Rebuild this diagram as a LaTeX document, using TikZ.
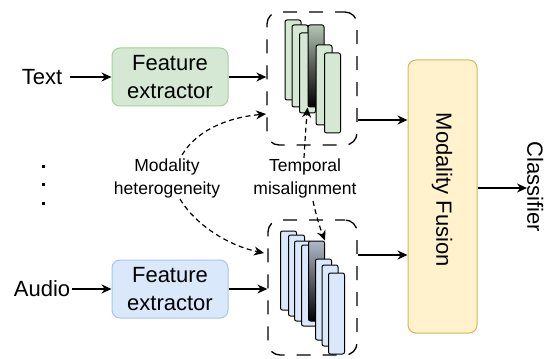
\documentclass[tikz,border=0pt]{standalone}
\usepackage{fontspec}
\setmainfont{Liberation Sans}
\usetikzlibrary{arrows.meta,calc}
\definecolor{gfill}{HTML}{D5E8D4}
\definecolor{gline}{HTML}{A3D196}
\definecolor{bfill}{HTML}{DAE8FC}
\definecolor{bline}{HTML}{A9C4EB}
\definecolor{yfill}{HTML}{FFF2CC}
\definecolor{yline}{HTML}{D6B656}
\begin{document}
\begin{tikzpicture}[x=1pt,y=-1pt,
  lbl/.style={font=\fontsize{22}{27}\selectfont, inner sep=0pt, align=center},
  small/.style={font=\fontsize{17.5}{23}\selectfont, inner sep=0pt, align=center},
  febox/.style={draw, line width=1pt, rounded corners=8pt, minimum width=116pt, minimum height=58pt, align=center, font=\fontsize{22}{28}\selectfont, inner sep=0pt},
  grp/.style={draw, line width=1.3pt, dash pattern=on 14pt off 12pt, dash phase=4pt, rounded corners=12pt, inner sep=0pt},
  bar/.style={draw, line width=1pt, rounded corners=2pt, minimum width=16pt, inner sep=0pt},
  gbar/.style={bar, fill=gfill},
  bbar/.style={bar, fill=bfill},
  arr/.style={line width=1.2pt, -{Stealth[length=10pt,width=9pt]}},
  darr/.style={line width=1.2pt, dash pattern=on 5pt off 3.5pt, -{Stealth[length=10pt,width=9pt]}},
  dot/.style={fill=black, minimum size=3pt, inner sep=0pt},
]
\useasboundingbox (0,0) rectangle (545,358);

% inputs
\node[lbl] (text) at (42,77) {Text};
\node[lbl] (audio) at (42,289) {Audio};
\node[dot] (d1) at (43,166) {};
\node[dot] (d2) at (43,184) {};
\node[dot] (d3) at (43,203) {};

% feature extractors
\node[febox, fill=gfill, draw=gline] (fet) at (170,77) {Feature\\extractor};
\node[febox, fill=bfill, draw=bline] (fea) at (170,289) {Feature\\extractor};

% groups
\node[grp, minimum width=90pt, minimum height=133pt] (gt) at (312,78.5) {};
\node[grp, minimum width=89pt, minimum height=135pt] (ga) at (312.5,287.5) {};

% green bars
\node[gbar, minimum height=80pt] (g1) at (293,60) {};
\node[gbar, minimum height=82pt] (g2) at (300,66) {};
\node[gbar, minimum height=80pt] (g3) at (307.5,73) {};
\node[bar, minimum height=82pt, top color=gfill!85!black, bottom color=black, middle color=gfill!40!black] (g4) at (316,66) {};
\node[gbar, minimum height=80pt] (g5) at (324,85) {};
\node[gbar, minimum height=80pt] (g6) at (332.5,93) {};

% blue bars
\node[bbar, minimum height=79pt] (a1) at (288.5,270.5) {};
\node[bbar, minimum height=81pt] (a2) at (296.5,275.5) {};
\node[bbar, minimum height=80pt] (a3) at (302.5,281) {};
\node[bbar, minimum height=81pt] (a4) at (309.5,285.5) {};
\node[bar, minimum height=80pt, top color=bfill!80!black, bottom color=black, middle color=bfill!40!black] (a5) at (316.5,281) {};
\node[bbar, minimum height=81pt] (a6) at (323.5,299.5) {};
\node[bbar, minimum height=81pt] (a7) at (330,305.5) {};
\node[bbar, minimum height=81pt] (a8) at (336.5,313.5) {};

% fusion and classifier
\node[draw=yline, fill=yfill, line width=1pt, rounded corners=8pt, minimum width=69pt, minimum height=273pt, inner sep=0pt] (mf) at (442.5,196.5) {};
\node[lbl] (mflabel) at (442,190) {\rotatebox{-90}{Modality Fusion}};
\node[lbl, anchor=west] (cls) at (527,187) {\rotatebox{-90}{Classifier}};

% labels
\node[small] (mh) at (167,178) {Modality\\heterogeneity};
\node[small] (tm) at (305,178) {Temporal\\misalignment};

% coordinates
\coordinate (gtin2) at (266,114);
\coordinate (gain2) at (264,253);
\coordinate (mhtop) at (182,155);
\coordinate (mhbot) at (180,199);
\coordinate (tmtop) at (304,158);
\coordinate (tmbot) at (313,201);

% arrows
\draw[arr] (text.east) ++(8,0) coordinate (tx) (tx) -- (fet.west);
\draw[arr] (audio.east) ++(2,0) coordinate (ax) (ax) -- (fea.west);
\draw[arr] (fet.east) -- (fet.east -| gt.west);
\draw[arr] (fea.east) -- (fea.east -| ga.west);
\draw[arr] (gt.east |- 0,120) -- (mf.west |- 0,120);
\draw[arr] (ga.east |- 0,255) -- (mf.west |- 0,255);
\draw[arr] (mf.east |- 0,188) -- (cls.west |- 0,188);

% dashed curves
\draw[darr] (mhtop) .. controls (198,128) and (232,117) .. (gtin2);
\draw[darr] (mhbot) .. controls (196,226) and (230,246) .. (gain2);
\draw[darr] (tmtop) .. controls (305,140) and (306,125) .. (g4.south west);
\draw[darr] (tmbot) .. controls (316,215) and (320,228) .. (a5.north east);
\end{tikzpicture}
\end{document}
